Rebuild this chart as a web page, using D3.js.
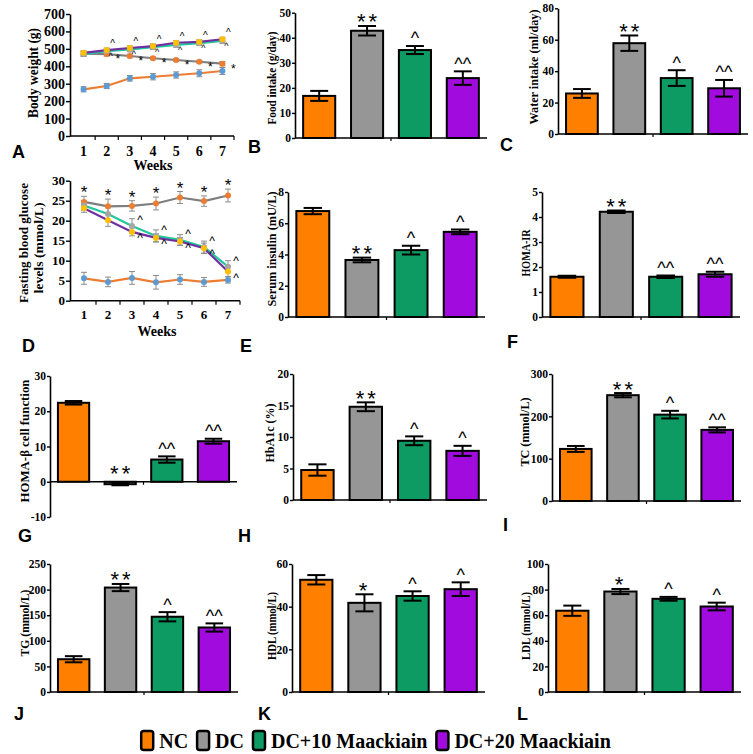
<!DOCTYPE html>
<html><head><meta charset="utf-8">
<script src="https://cdn.jsdelivr.net/npm/d3@7"></script>
<style>body{margin:0;background:#fff}svg{display:block}</style>
</head><body><svg id="c" width="753" height="754"></svg>
<script>
// ---------- DATA ----------
const groups = ["NC","DC","DC+10 Maackiain","DC+20 Maackiain"];
const barColors = ["#FF8000","#969696","#0D9A63","#A20BDD"];
const weeks = [1,2,3,4,5,6,7];

// A: body weight (g)
const bwNC = [268,287,331,340,350,360,373];
const bwNCErr = [15,15,16,18,18,20,20];
const bwDC = [472,470,459,446,436,426,415];
const bwDCErr = [12,12,10,8,8,8,12];
const bwM10 = [470,487,497,510,523,533,545];
const bwM10Err = [14,14,14,14,14,14,14];
const bwM20 = [477,493,505,516,535,540,555];
const bwM20Err = [12,12,12,12,12,12,12];
const bwSigDC = ["","*","*","*","*","*","*"];
const bwSigM10 = ["","^","^","^","^","^","^"];
const bwSigM20 = ["","^","^","^","^","^","^"];

// D: fasting blood glucose (mmol/L)
const fbgNC = [5.6,4.7,5.7,4.6,5.3,4.7,5.2];
const fbgNCErr = [1.5,1.2,1.6,1.7,1.2,1.1,0.8];
const fbgDC = [24.7,23.6,23.7,24.3,25.8,24.9,26.3];
const fbgDCErr = [1.4,1.8,1.3,1.6,1.5,1.3,1.6];
const fbgM10 = [23.8,21.7,18.7,16.2,15.2,13.4,8.5];
const fbgM10Err = [1.2,1.5,1.8,1.5,1.3,1.5,1.5];
const fbgM20 = [23.1,20.1,17.2,15.7,14.8,13.1,7.3];
const fbgM20Err = [1.0,1.5,1.0,1.0,1.0,1.3,1.3];
const fbgSigDC = ["*","*","*","*","*","*","*"];
const fbgSigM10 = ["","","^","^","^","^","^"];
const fbgSigM20 = ["","","^","^","^","^","^"];

// bar panels
const food = [16.8,42.8,35.1,23.9], foodErr = [2.0,1.9,1.6,2.7], foodSig = ["","**","^","^^"];
const water = [25.8,57.8,35.6,29.1], waterErr = [2.8,4.9,5.0,5.3], waterSig = ["","**","^","^^"];
const insulin = [6.78,3.65,4.28,5.45], insulinErr = [0.2,0.15,0.28,0.15], insulinSig = ["","**","^","^"];
const homaIR = [1.61,4.21,1.61,1.71], homaIRErr = [0.04,0.05,0.05,0.1], homaIRSig = ["","**","^^","^^"];
const homaB = [22.4,-0.7,6.3,11.5], homaBErr = [0.5,0.3,0.9,0.7], homaBSig = ["","**","^^","^^"];
const hba1c = [4.76,14.8,9.4,7.8], hba1cErr = [0.9,0.7,0.7,0.8], hba1cSig = ["","**","^","^"];
const tc = [123,250,204,168], tcErr = [7,5,9,6], tcSig = ["","**","^","^^"];
const tg = [64,204,147,126], tgErr = [6,7,9,8], tgSig = ["","**","^","^^"];
const hdl = [52.6,41.8,45.0,48.2], hdlErr = [2.2,4.0,2.2,3.2], hdlSig = ["","*","^","^"];
const ldl = [63.5,78.5,72.8,66.8], ldlErr = [4.0,2.0,1.5,3.0], ldlSig = ["","*","^","^"];

const lineColors = ["#ED7D31","#7F7F7F","#22C79C","#7030A0"];
const markerColors = ["#5B9BD5","#ED7D31","#A5A5A5","#FFC000"];

// ---------- HELPERS ----------
const svg = d3.select("#c");
const serif = "'Liberation Serif','Times New Roman',Times,serif";
const sans = "'Liberation Sans',Arial,Helvetica,sans-serif";

function styleAxis(sel, fs){
  sel.selectAll("path.domain").attr("stroke","#000").attr("stroke-width",1.6);
  sel.selectAll(".tick line").attr("stroke","#000").attr("stroke-width",1.4);
  sel.selectAll(".tick text").attr("font-family",serif).attr("font-weight","bold")
     .attr("font-size",fs).attr("fill","#000");
}
function rotTitle(text,cx,cy,fs,len){
  svg.append("text").attr("transform",`translate(${cx},${cy}) rotate(-90)`)
    .attr("text-anchor","middle").attr("dy","0.35em")
    .attr("font-family",serif).attr("font-weight","bold").attr("font-size",fs)
    .attr("textLength",len).attr("lengthAdjust","spacingAndGlyphs").text(text);
}
function letter(t,x,y){
  svg.append("text").attr("x",x).attr("y",y).attr("font-family",sans)
    .attr("font-weight","bold").attr("font-size",18).text(t);
}

function barPanel(p){
  const g = svg.append("g");
  const x = d3.scaleBand().domain(groups).range([p.x0,p.x1]).paddingInner(0.33).paddingOuter(0.17);
  const y = d3.scaleLinear().domain(p.domain).range([p.yBot,p.yTop]);
  const bw = x.bandwidth();
  g.selectAll("rect").data(p.values).join("rect")
    .attr("x",(d,i)=>x(groups[i])).attr("width",bw)
    .attr("y",d=>Math.min(y(d),y(0))).attr("height",d=>Math.abs(y(d)-y(0)))
    .attr("fill",(d,i)=>barColors[i]).attr("stroke","#000").attr("stroke-width",2);
  p.values.forEach((v,i)=>{
    const cx = x(groups[i])+bw/2, e = p.errs[i], hw = bw*0.28;
    const yt = y(v+e), yb = y(v-e);
    const L = (x1,y1,x2,y2)=>g.append("line").attr("x1",x1).attr("y1",y1).attr("x2",x2).attr("y2",y2)
      .attr("stroke","#000").attr("stroke-width",2);
    L(cx,yt,cx,yb); L(cx-hw,yt,cx+hw,yt); L(cx-hw,yb,cx+hw,yb);
    const s = p.sig[i];
    if(s){
      let top = Math.min(yt, y(0)-4);
      const isStar = s[0]==="*";
      const fs = isStar ? 22 : 18;
      const base = isStar ? top+3.5 : top-1.6;
      g.append("text").attr("x",cx+(s.length>1&&isStar?1.5:0)).attr("y",base)
        .attr("text-anchor","middle").attr("font-family",sans).attr("font-size",fs)
        .attr("letter-spacing",isStar?3:0).text(s);
    }
  });
  const ticks = d3.range(p.domain[0], p.domain[1]+p.step/2, p.step);
  const ax = g.append("g").attr("transform",`translate(${p.x0},0)`)
    .call(d3.axisLeft(y).tickValues(ticks).tickSize(3).tickSizeOuter(0).tickPadding(1).tickFormat(d=>String(d)));
  styleAxis(ax,11.5);
  g.append("line").attr("x1",p.x0).attr("x2",p.x1).attr("y1",y(0)).attr("y2",y(0))
    .attr("stroke","#000").attr("stroke-width",1.6);
  const mid = (p.x0+p.x1)/2;
  g.append("line").attr("x1",mid).attr("x2",mid).attr("y1",y(0)).attr("y2",y(0)+3)
    .attr("stroke","#000").attr("stroke-width",1.2);
  rotTitle(p.title,p.tx,p.ty,p.tfs||11.5,p.tlen);
}

function linePanel(p){
  const g = svg.append("g");
  const x = d3.scaleBand().domain(weeks).range([p.x0+2,p.x1]);
  const y = d3.scaleLinear().domain(p.domain).range([p.yBot,p.yTop]);
  const cx = w=>x(w)+x.bandwidth()/2;
  const ticks = d3.range(p.domain[0], p.domain[1]+p.step/2, p.step);
  const ax = g.append("g").attr("transform",`translate(${p.x0},0)`)
    .call(d3.axisLeft(y).tickValues(ticks).tickSize(4).tickSizeOuter(0).tickPadding(1));
  styleAxis(ax,p.fs);
  g.append("line").attr("x1",p.x0).attr("x2",p.x1).attr("y1",p.yBot).attr("y2",p.yBot)
    .attr("stroke","#000").attr("stroke-width",1.6);
  weeks.forEach(w=>{
    const bx = x(w)+x.bandwidth();
    g.append("line").attr("x1",bx).attr("x2",bx).attr("y1",p.yBot).attr("y2",p.yBot+4)
      .attr("stroke","#000").attr("stroke-width",1.2);
    g.append("text").attr("x",cx(w)).attr("y",p.weekY).attr("text-anchor","middle")
      .attr("font-family",serif).attr("font-weight","bold").attr("font-size",p.fs).text(w);
  });
  g.append("text").attr("x",p.wx).attr("y",p.wy).attr("text-anchor","middle")
    .attr("font-family",serif).attr("font-weight","bold").attr("font-size",14).text("Weeks");
  const line = d3.line().x((d,i)=>cx(weeks[i])).y(d=>y(d));
  p.series.forEach((s,k)=>{
    g.append("path").attr("d",line(s.vals)).attr("fill","none")
      .attr("stroke",lineColors[k]).attr("stroke-width",2.2);
  });
  p.series.forEach((s,k)=>{
    s.vals.forEach((v,i)=>{
      const xx = cx(weeks[i]), yt = y(v+s.errs[i]), yb = y(v-s.errs[i]);
      const L=(a,b,c,d)=>g.append("line").attr("x1",a).attr("y1",b).attr("x2",c).attr("y2",d)
        .attr("stroke","#8C8C8C").attr("stroke-width",1);
      L(xx,yt,xx,yb); L(xx-3,yt,xx+3,yt); L(xx-3,yb,xx+3,yb);
    });
  });
  p.series.forEach((s,k)=>{
    g.selectAll(null).data(s.vals).join("circle")
      .attr("cx",(d,i)=>cx(weeks[i])).attr("cy",d=>y(d)).attr("r",3)
      .attr("fill",markerColors[k]);
  });
  p.series.forEach((s,k)=>{
    if(!s.sig) return;
    s.vals.forEach((v,i)=>{
      const t = s.sig[i]; if(!t) return;
      let tx, ty, fs = s.sigFs||12;
      if(s.sigPos==="above"){ tx = cx(weeks[i]); ty = y(v+s.errs[i]) + 2; }
      else { tx = cx(weeks[i]) + s.dx; ty = y(v) + s.dy; }
      g.append("text").attr("x",tx).attr("y",ty).attr("text-anchor","middle")
        .attr("font-family",sans).attr("font-size",fs).text(t);
    });
  });
  if(p.titles) p.titles.forEach(t=>rotTitle(t.text,t.x,t.y,t.fs,t.len));
}

// ---------- PANELS ----------
linePanel({x0:70,x1:234,yTop:14,yBot:136,domain:[0,700],step:100,fs:14,weekY:156,wx:153,wy:170,
  series:[
    {vals:bwNC,errs:bwNCErr},
    {vals:bwDC,errs:bwDCErr,sig:bwSigDC,dx:11,dy:9,sigFs:12},
    {vals:bwM10,errs:bwM10Err,sig:bwSigM10,dx:4,dy:8,sigFs:9},
    {vals:bwM20,errs:bwM20Err,sig:bwSigM20,dx:6,dy:-3,sigFs:10}
  ],
  titles:[{text:"Body weight (g)",x:33,y:73,fs:14,len:90}]
});
linePanel({x0:70,x1:240,yTop:180.7,yBot:300.7,domain:[0,30],step:5,fs:13,weekY:319,wx:157,wy:336,
  series:[
    {vals:fbgNC,errs:fbgNCErr},
    {vals:fbgDC,errs:fbgDCErr,sig:fbgSigDC,sigPos:"above",sigFs:17},
    {vals:fbgM10,errs:fbgM10Err,sig:fbgSigM10,dx:8,dy:-2,sigFs:12},
    {vals:fbgM20,errs:fbgM20Err,sig:fbgSigM20,dx:8,dy:10,sigFs:12}
  ],
  titles:[{text:"Fasting blood glucose",x:23,y:243,fs:13,len:120},
          {text:"levels (mmol/L)",x:38,y:248,fs:13,len:91}]
});

barPanel({values:food,errs:foodErr,sig:foodSig,domain:[0,50],step:10,x0:295,x1:487,yTop:12.7,yBot:138,
  title:"Food intake (g/day)",tx:272,ty:78,tlen:93});
barPanel({values:water,errs:waterErr,sig:waterSig,domain:[0,80],step:20,x0:558,x1:748,yTop:8.3,yBot:134,
  title:"Water intake (ml/day)",tx:534,ty:67,tlen:115});
barPanel({values:insulin,errs:insulinErr,sig:insulinSig,domain:[0,8],step:2,x0:288,x1:485,yTop:192,yBot:317,
  title:"Serum insulin (mU/L)",tx:272,ty:249,tlen:115});
barPanel({values:homaIR,errs:homaIRErr,sig:homaIRSig,domain:[0,5],step:1,x0:542,x1:740,yTop:192,yBot:317,
  title:"HOMA-IR",tx:526,ty:253,tlen:47});
barPanel({values:homaB,errs:homaBErr,sig:homaBSig,domain:[-10,30],step:10,x0:50,x1:237,yTop:376,yBot:517,
  title:"HOMA-\u03B2 cell function",tx:25,ty:441,tlen:123,tfs:12});
barPanel({values:hba1c,errs:hba1cErr,sig:hba1cSig,domain:[0,20],step:5,x0:293,x1:487,yTop:374,yBot:500,
  title:"HbA1c (%)",tx:270,ty:433,tlen:59});
barPanel({values:tc,errs:tcErr,sig:tcSig,domain:[0,300],step:100,x0:552,x1:741,yTop:374,yBot:501,
  title:"TC (mmol/L)",tx:525,ty:432,tlen:69});
barPanel({values:tg,errs:tgErr,sig:tgSig,domain:[0,250],step:50,x0:50,x1:238,yTop:564,yBot:692,
  title:"TG (mmol/L)",tx:25,ty:623,tlen:67});
barPanel({values:hdl,errs:hdlErr,sig:hdlSig,domain:[0,60],step:20,x0:292,x1:485,yTop:564,yBot:692,
  title:"HDL (mmol/L)",tx:272,ty:626,tlen:68});
barPanel({values:ldl,errs:ldlErr,sig:ldlSig,domain:[0,100],step:20,x0:548,x1:741,yTop:564,yBot:692,
  title:"LDL (mmol/L)",tx:526,ty:626,tlen:68});

// panel letters
letter("A",12,158); letter("B",248,153); letter("C",500,151);
letter("D",22,352); letter("E",240,352); letter("F",507,348);
letter("G",18,542); letter("H",238,542); letter("I",503,531);
letter("J",14,720); letter("K",258,720); letter("L",517,720);

// legend
const lg = svg.append("g");
let lx = 0;
groups.forEach((name,i)=>{
  lg.append("rect").attr("x",lx).attr("y",731).attr("width",12).attr("height",19)
    .attr("rx",2.5).attr("fill",barColors[i]).attr("stroke","#000").attr("stroke-width",2.5);
  lx += 12 + 6;
  const t = lg.append("text").attr("x",lx).attr("y",748).attr("font-family",serif)
    .attr("font-weight","bold").attr("font-size",20).text(name);
  lx += t.node().getComputedTextLength() + 9;
});
const total = lx - 9;
lg.attr("transform",`translate(${376 - total/2},0)`);
</script>
</body></html>
